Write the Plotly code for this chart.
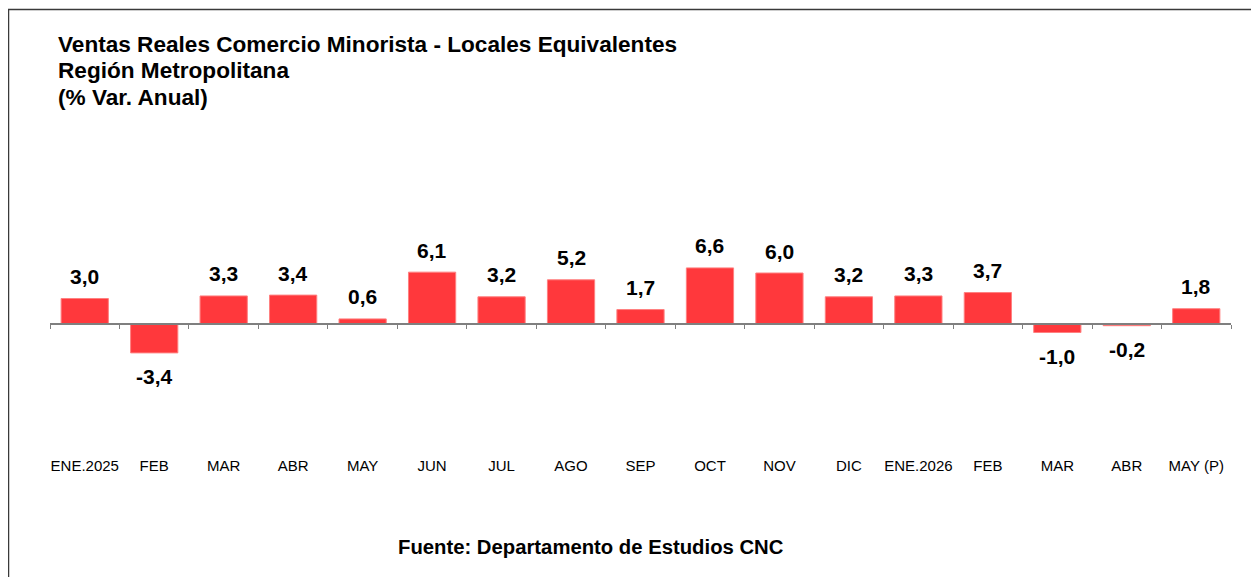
import numpy as np
import plotly.graph_objects as go

categories = ["ENE.2025", "FEB", "MAR", "ABR", "MAY", "JUN", "JUL", "AGO", "SEP",
              "OCT", "NOV", "DIC", "ENE.2026", "FEB", "MAR", "ABR", "MAY (P)"]
values = [3.0, -3.4, 3.3, 3.4, 0.6, 6.1, 3.2, 5.2, 1.7, 6.6, 6.0, 3.2, 3.3, 3.7, -1.0, -0.2, 1.8]
title_lines = ["Ventas Reales Comercio Minorista - Locales Equivalentes",
               "Región Metropolitana",
               "(% Var. Anual)"]
source_text = "Fuente: Departamento de Estudios CNC"

OFF = 8  # page body margin
W, H = 1259 - OFF, 577 - OFF
# target page pixel positions
L, R, T, B = 50, 1231, 230, 455
ZERO_PX = 324
PX_PER_UNIT = 8.5
ymax = (ZERO_PX - T) / PX_PER_UNIT
ymin = -(B - ZERO_PX) / PX_PER_UNIT


def px_x(x):
    return (x - L) / (R - L)


def px_y(y):
    return (B - y) / (B - T)


n = len(categories)
fig = go.Figure()
fig.add_trace(go.Bar(
    x=list(range(n)), y=values,
    marker=dict(color="#FF383C", line=dict(color="#FF8080", width=1)),
    width=0.68, hoverinfo="skip", showlegend=False,
))
fig.add_trace(go.Scatter(x=[-0.5, n - 0.5], y=[0, 0], xaxis="x2", mode="lines",
                         line=dict(width=0), opacity=0, hoverinfo="skip", showlegend=False))

FONT = "Arial, Liberation Sans, sans-serif"
annotations = []
for i, v in enumerate(values):
    annotations.append(dict(
        x=i, y=v, xref="x", yref="y", text=f"<b>{v:.1f}</b>".replace(".", ","),
        showarrow=False, yanchor="middle", yshift=22 if v >= 0 else -24,
        font=dict(family=FONT, size=21, color="black"),
    ))
for txt, ypx in zip(title_lines, [44, 70, 97]):
    annotations.append(dict(
        x=px_x(56), y=px_y(ypx), xref="paper", yref="paper", text=f"<b>{txt}</b>",
        showarrow=False, xanchor="left", yanchor="middle",
        font=dict(family=FONT, size=22.6, color="black"),
    ))
annotations.append(dict(
    x=px_x(591), y=px_y(547), xref="paper", yref="paper", text=f"<b>{source_text}</b>",
    showarrow=False, xanchor="center", yanchor="middle",
    font=dict(family=FONT, size=20.3, color="black"),
))

fig.update_layout(
    width=W, height=H,
    margin=dict(l=L - OFF, r=W + OFF - R, t=T - OFF, b=H + OFF - B, pad=0),
    plot_bgcolor="white", paper_bgcolor="white",
    xaxis=dict(
        range=[-0.5, n - 0.5], tickvals=list(range(n)), ticktext=categories,
        showline=False, ticks="", showgrid=False, zeroline=False,
        tickfont=dict(family=FONT, size=15, color="black"),
    ),
    xaxis2=dict(
        overlaying="x", anchor="free", position=(0 - ymin) / (ymax - ymin),
        range=[-0.5, n - 0.5], tickvals=list(np.arange(n + 1) - 0.5),
        ticks="outside", ticklen=4, tickcolor="#7f7f7f", tickwidth=1,
        showline=True, linecolor="#7f7f7f", linewidth=1.5,
        showticklabels=False, showgrid=False, zeroline=False,
    ),
    yaxis=dict(range=[ymin, ymax], visible=False, showgrid=False, zeroline=False),
    annotations=annotations,
    shapes=[dict(
        type="rect", xref="paper", yref="paper",
        x0=px_x(8.5), x1=px_x(1259 + 10), y0=px_y(577 + 10), y1=px_y(9.5),
        line=dict(color="#3a3a3a", width=1.5), fillcolor="rgba(0,0,0,0)",
    )],
)

fig.write_html("out.html")
